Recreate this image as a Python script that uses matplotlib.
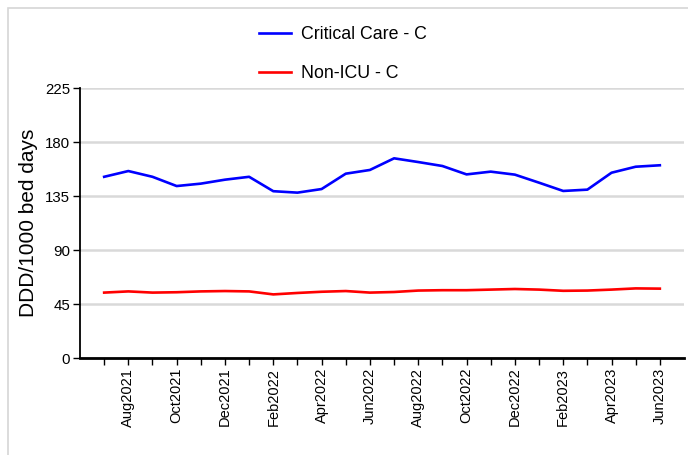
import matplotlib.pyplot as plt
from matplotlib.patches import Rectangle

plt.rcParams['font.family'] = ['Liberation Sans', 'DejaVu Sans']

# monthly data, Jul 2021 - Jun 2023
months = ["Jul2021", "Aug2021", "Sep2021", "Oct2021", "Nov2021", "Dec2021",
          "Jan2022", "Feb2022", "Mar2022", "Apr2022", "May2022", "Jun2022",
          "Jul2022", "Aug2022", "Sep2022", "Oct2022", "Nov2022", "Dec2022",
          "Jan2023", "Feb2023", "Mar2023", "Apr2023", "May2023", "Jun2023"]
critical_care = [151, 155.8, 151, 143.3, 145.3, 148.6, 151, 139, 137.8, 140.8, 153.6, 156.7,
                 166.4, 163.3, 160, 153, 155.3, 152.8, 146.1, 139.2, 140.3, 154.4, 159.4, 160.6]
non_icu = [54.5, 55.5, 54.5, 54.8, 55.5, 55.8, 55.5, 53, 54.2, 55.2, 55.8, 54.5,
           55, 56.2, 56.5, 56.5, 57, 57.5, 57, 56, 56.2, 57, 58, 57.8]
yticks = [0, 45, 90, 135, 180, 225]

fig = plt.figure(figsize=(6.88, 4.55), dpi=100)
# light frame round the figure (open to the right and bottom edges)
fig.patches.append(Rectangle((8/688, -0.1), 1.0, 1.1 - 8/455, transform=fig.transFigure,
                             fill=False, edgecolor='#d6d6d6', linewidth=1.2))

ax = fig.add_axes([80/688, 1 - 358/455, 604/688, 270/455])
x = list(range(len(months)))
ax.plot(x, critical_care, color='#0000ff', linewidth=1.9, label='Critical Care - C')
ax.plot(x, non_icu, color='#ff0000', linewidth=1.9, label='Non-ICU - C')

ax.set_xlim(-1, 24)
ax.set_ylim(0, 225)
ax.set_yticks(yticks)
ax.set_yticklabels([str(v) for v in yticks], fontsize=10.8)
ax.set_xticks(x)
ax.set_xticklabels([m if i % 2 == 1 else '' for i, m in enumerate(months)],
                   rotation=90, fontsize=10.5)
ax.grid(axis='y', color='#d9d9d9', linewidth=1.8)
ax.set_axisbelow(True)
for s in ['top', 'right']:
    ax.spines[s].set_visible(False)
ax.spines['left'].set_linewidth(1.3)
ax.spines['bottom'].set_linewidth(2)
ax.tick_params(axis='both', direction='out', length=5, width=1, pad=2)
ax.set_ylabel('DDD/1000 bed days', fontsize=15, labelpad=5)

fig.legend(loc='upper left', bbox_to_anchor=(243/688, 1 - 10/455), frameon=False,
           fontsize=12.8, labelspacing=1.25, handlelength=1.8, handletextpad=0.56)

fig.savefig('out.png', dpi=100)
